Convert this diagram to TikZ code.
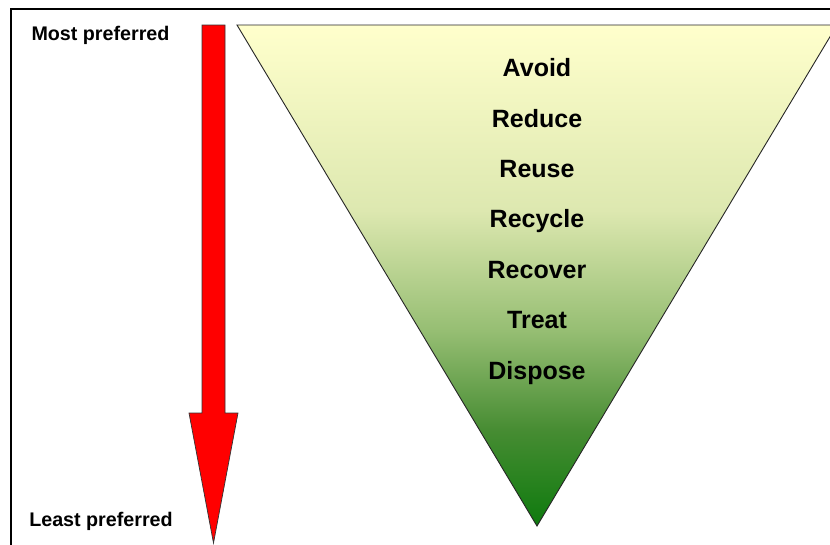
\documentclass[tikz,border=0pt]{standalone}
\usepackage{fontspec}
\setmainfont{Liberation Sans}
\definecolor{gA}{HTML}{FFFFCC}
\definecolor{gB}{HTML}{DDE8B0}
\definecolor{gC}{HTML}{96BE73}
\definecolor{gD}{HTML}{468C32}
\definecolor{gE}{HTML}{0E7A0E}
\definecolor{arrowred}{HTML}{FF0000}
\pgfdeclareverticalshading{hierarchyfill}{100bp}{color(0bp)=(gE); color(25bp)=(gE); color(34.5bp)=(gD); color(44.5bp)=(gC); color(56.5bp)=(gB); color(75bp)=(gA); color(100bp)=(gA)}
\begin{document}
\begin{tikzpicture}[x=1pt,y=-1pt,
  steplabel/.style={anchor=base,font=\fontsize{25}{29}\selectfont\bfseries,inner sep=0pt},
  sidelabel/.style={anchor=base,font=\fontsize{19.7}{23}\selectfont\bfseries,inner sep=0pt}]
\useasboundingbox (0,0) rectangle (830,544);
\clip (0,0) rectangle (830,544);
\fill[white] (0,0) rectangle (830,544);
% frame
\draw[line width=2pt] (10.5,8.5) rectangle (850,570);
% triangle
\shade[shading=hierarchyfill,draw=black!85,line width=0.9pt]
  (237,25) -- (837,25) -- (537,526) -- cycle;
% arrow
\draw[fill=arrowred,draw=black!80,line width=0.7pt]
  (202,25) -- (225,25) -- (225,413) -- (238,413) -- (213.5,543) -- (189,413) -- (202,413) -- cycle;
% labels
\node[sidelabel] (most) at (100.5,40.7) {Most preferred};
\node[sidelabel] (least) at (101,526.7) {Least preferred};
\node[steplabel] (avoid) at (537,76.7) {Avoid};
\node[steplabel] (reduce) at (537,127.1) {Reduce};
\node[steplabel] (reuse) at (537,177.5) {Reuse};
\node[steplabel] (recycle) at (537,227.9) {Recycle};
\node[steplabel] (recover) at (537,278.3) {Recover};
\node[steplabel] (treat) at (537,328.7) {Treat};
\node[steplabel] (dispose) at (537,379.1) {Dispose};
\end{tikzpicture}
\end{document}
